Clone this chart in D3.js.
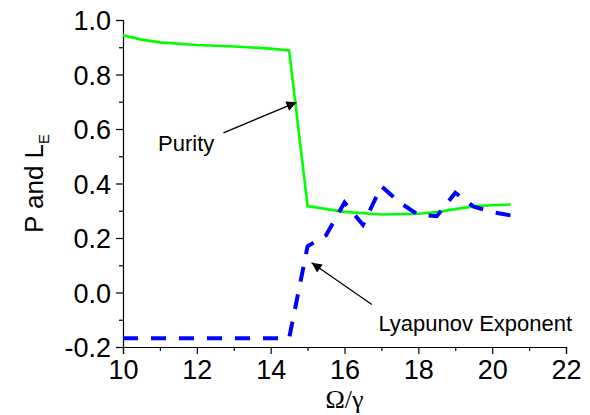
<!DOCTYPE html>
<html>
<head>
<meta charset="utf-8">
<script src="https://cdn.jsdelivr.net/npm/d3@7"></script>
<style>
  html, body { margin: 0; padding: 0; background: #fff; }
  svg { display: block; }
  text { font-family: "Liberation Sans", Arial, sans-serif; fill: #000; }
</style>
</head>
<body>
<svg id="chart" width="590" height="415"></svg>
<script>
// ---- data ----
const purityX = [10, 10.5, 11, 12, 13, 14, 14.5, 15, 16, 17, 18, 18.5, 19, 19.5, 20, 20.5];
const purityY = [0.944, 0.928, 0.918, 0.908, 0.903, 0.895, 0.888, 0.317, 0.296, 0.286, 0.289, 0.295, 0.306, 0.316, 0.320, 0.323];

const lyapX = [10, 11, 12, 13, 14, 14.5, 15, 15.5, 16, 16.5, 17, 17.5, 18, 18.5, 19, 19.5, 20, 20.5];
const lyapY = [-0.168, -0.168, -0.168, -0.168, -0.168, -0.168, 0.170, 0.210, 0.330, 0.248, 0.390, 0.330, 0.285, 0.280, 0.366, 0.315, 0.295, 0.283];

const xTicks = [10, 12, 14, 16, 18, 20, 22];
const xMinorTicks = [11, 13, 15, 17, 19, 21];
const yTicks = [-0.2, 0.0, 0.2, 0.4, 0.6, 0.8, 1.0];
const yMinorTicks = [-0.1, 0.1, 0.3, 0.5, 0.7, 0.9];

const annotationLabels = ["Purity", "Lyapunov Exponent"];
const annotationTextX = [10.95, 16.92];
const annotationTextY = [0.518, -0.142];
const arrowFromX = [12.72, 16.74];
const arrowFromY = [0.586, -0.044];
const arrowToX = [14.70, 15.11];
const arrowToY = [0.698, 0.109];

// ---- layout ----
const W = 590, H = 415;
const margin = { left: 123, right: 24, top: 20, bottom: 68 };
const svg = d3.select("#chart");

const x = d3.scaleLinear().domain([10, 22]).range([margin.left, W - margin.right]);
const y = d3.scaleLinear().domain([-0.2, 1.0]).range([H - margin.bottom, margin.top]);

const yFmt = d => d3.format(".1f")(d).replace("\u2212", "-");

// axes
const xAxis = svg.append("g").attr("transform", `translate(0,${H - margin.bottom})`)
  .call(d3.axisBottom(x).tickValues(xTicks).tickFormat(d3.format("d")).tickSizeOuter(0).tickSize(7).tickPadding(5));
const xMinor = svg.append("g").attr("transform", `translate(0,${H - margin.bottom})`)
  .call(d3.axisBottom(x).tickValues(xMinorTicks).tickFormat("").tickSizeOuter(0).tickSize(4));
xMinor.select(".domain").remove();

const yAxis = svg.append("g").attr("transform", `translate(${margin.left},0)`)
  .call(d3.axisLeft(y).tickValues(yTicks).tickFormat(yFmt).tickSizeOuter(0).tickSize(7).tickPadding(5));
const yMinor = svg.append("g").attr("transform", `translate(${margin.left},0)`)
  .call(d3.axisLeft(y).tickValues(yMinorTicks).tickFormat("").tickSizeOuter(0).tickSize(4));
yMinor.select(".domain").remove();

svg.selectAll(".domain, .tick line").attr("stroke", "#000").attr("stroke-width", 1.2);
svg.selectAll(".tick text")
  .style("font-family", "'Liberation Sans', Arial, sans-serif")
  .style("font-size", "27px").attr("fill", "#000");
yAxis.selectAll(".tick text").attr("dy", "0.36em");
xAxis.selectAll(".tick text").attr("dy", "0.74em");

// axis titles
svg.append("text")
  .attr("x", (x(10) + x(22)) / 2).attr("y", 408)
  .attr("text-anchor", "middle")
  .style("font-family", "'Liberation Serif', 'Times New Roman', serif")
  .style("font-size", "26px")
  .text("Ω/γ");

const yl = svg.append("text")
  .attr("transform", `translate(43,${(y(-0.2) + y(1.0)) / 2}) rotate(-90)`)
  .attr("text-anchor", "middle")
  .style("font-size", "26px");
yl.append("tspan").text("P and L");
yl.append("tspan").attr("dy", 6).style("font-size", "15px").text("E");

// lines
const purity = purityX.map((d, i) => [d, purityY[i]]);
const lyap = lyapX.map((d, i) => [d, lyapY[i]]);
const line = d3.line().x(d => x(d[0])).y(d => y(d[1]));

svg.append("path").datum(purity)
  .attr("d", line).attr("fill", "none")
  .attr("stroke", "#00ff00").attr("stroke-width", 2.6).attr("stroke-linejoin", "miter");

svg.append("path").datum(lyap)
  .attr("d", line).attr("fill", "none")
  .attr("stroke", "#0000ff").attr("stroke-width", 4)
  .attr("stroke-dasharray", "15,13");

// arrow marker
svg.append("defs").append("marker")
  .attr("id", "arrowhead").attr("viewBox", "0 0 10 10")
  .attr("refX", 10).attr("refY", 5)
  .attr("markerWidth", 12).attr("markerHeight", 10)
  .attr("markerUnits", "userSpaceOnUse")
  .attr("orient", "auto")
  .append("path").attr("d", "M0,0 L10,5 L0,10 Z").attr("fill", "#000");

annotationLabels.forEach((lab, i) => {
  svg.append("line")
    .attr("x1", x(arrowFromX[i])).attr("y1", y(arrowFromY[i]))
    .attr("x2", x(arrowToX[i])).attr("y2", y(arrowToY[i]))
    .attr("stroke", "#000").attr("stroke-width", 1.3)
    .attr("marker-end", "url(#arrowhead)");
  svg.append("text")
    .attr("x", x(annotationTextX[i])).attr("y", y(annotationTextY[i]))
    .style("font-size", "22px")
    .text(lab);
});
</script>
</body>
</html>
